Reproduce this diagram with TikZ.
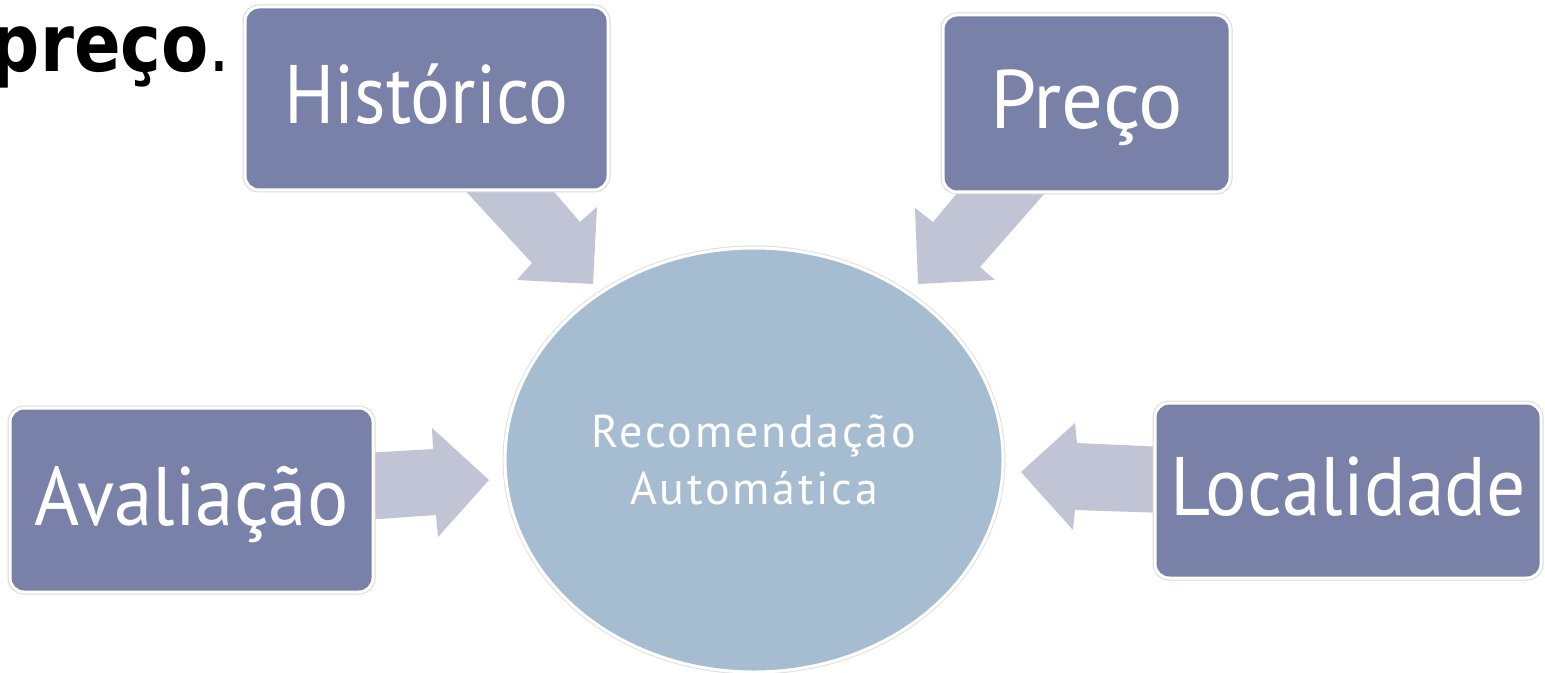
\documentclass[tikz,border=0pt]{standalone}
\usepackage{fontspec}
\setmainfont{PT Sans}
\newfontfamily\djv{DejaVu Sans}
\usetikzlibrary{shapes.geometric,positioning}
\definecolor{boxfill}{RGB}{121,129,168}
\definecolor{recfill}{RGB}{166,188,208}
\definecolor{arrfill}{RGB}{192,196,212}
\begin{document}
\begin{tikzpicture}[x=0.5pt,y=-0.5pt,
  box/.style={rectangle,rounded corners=7pt,fill=boxfill,draw=white,line width=1.5pt,
    preaction={draw=black!15,line width=2.5pt},text=white,inner sep=0pt,
    font=\fontsize{41.5}{48}\selectfont,text height=29pt,text depth=4pt},
  blockarrow/.style={fill=arrfill}]
\useasboundingbox (0,0) rectangle (1545,673);
\node[anchor=base east,inner sep=0pt,xscale=0.86,font=\djv\fontsize{40}{42}\selectfont] (hdr) at (231,72) {{\bfseries preço}.};
\fill[blockarrow] (460,185) -- (532,263) -- (517,280) -- (593,284) -- (597,207) -- (580,222) -- (548,185) -- cycle;
\fill[blockarrow] (1052,185) -- (980,267) -- (995,280) -- (918,284) -- (915,208) -- (933,222) -- (964,185) -- cycle;
\fill[blockarrow] (365,453) -- (433,449) -- (432,428) -- (489,480) -- (438,537) -- (436,515) -- (365,520) -- cycle;
\fill[blockarrow] (1165,447) -- (1077,443) -- (1075,423) -- (1021,472) -- (1073,530) -- (1075,510) -- (1165,513) -- cycle;
\node[box,minimum width=181.5pt,minimum height=91.5pt] (hist) at (426.5,98.5) {\scalebox{0.9}[1]{Histórico}};
\node[box,minimum width=143.5pt,minimum height=88.5pt] (preco) at (1086.5,103.5) {Preço};
\node[box,minimum width=181.5pt,minimum height=92pt] (aval) at (191.5,500) {\scalebox{0.93}[1]{Avaliação}};
\node[box,minimum width=193pt,minimum height=87.5pt] (local) at (1348,490.5) {\scalebox{0.935}[1]{Localidade}};
\node[ellipse,fill=recfill,draw=white,line width=1.5pt,preaction={draw=black!12,line width=2.5pt},
  minimum width=249pt,minimum height=212pt,inner sep=0pt,align=center,text=white,
  font=\fontsize{23}{28.5}\selectfont\addfontfeatures{LetterSpace=6}] (rec) at (754,460) {Recomendação\\Automática};
\end{tikzpicture}
\end{document}
